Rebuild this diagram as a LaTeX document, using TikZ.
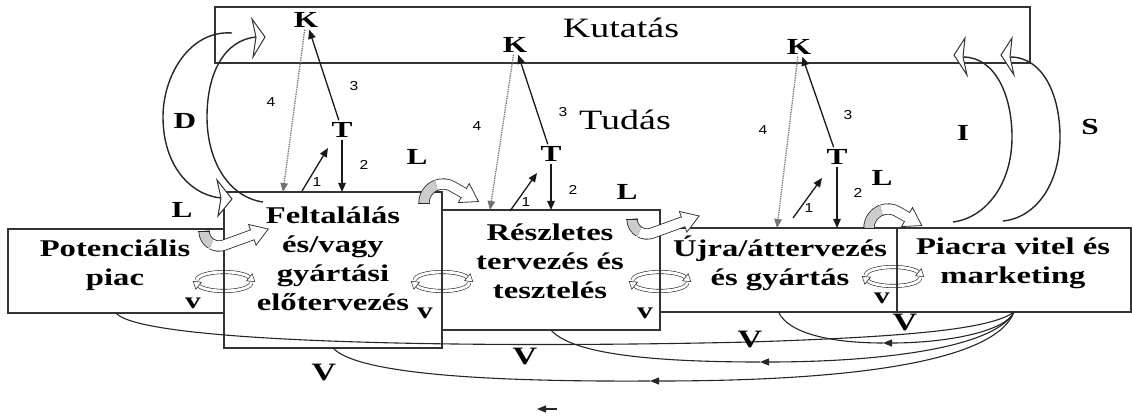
\documentclass[tikz,border=0pt]{standalone}
\usepackage{fontspec}
\setmainfont{Liberation Serif}[FakeStretch=1.36]
\newfontfamily\numfont{Liberation Sans}[FakeStretch=1.2]
\usetikzlibrary{arrows.meta,calc}
\newcommand\ribbon[7]{%
  \pgfmathsetmacro\rdir{(#6<#4) ? (#6-90) : (#6+90)}%
  \draw[rib, double=gray!40] ($(#1,#2)+(#4:#3)$) arc[start angle=#4, end angle=#5, radius=#3];
  \draw[rib, double=white] ($(#1,#2)+(#5:#3)$) arc[start angle=#5, end angle=#6, radius=#3] -- ++(\rdir:#7) coordinate (rh);
  \draw[black!85, line width=0.8pt] ($(#1,#2)+(#4:#3+5.6)$) -- ($(#1,#2)+(#4:#3-5.6)$);
  \filldraw[hollow, line width=0.8pt] ($(rh)+(\rdir+90:11)$) -- ($(rh)+(\rdir:17)$) -- ($(rh)+(\rdir-90:11)$) -- cycle;
  \draw[white, line width=9pt] ($(rh)+(\rdir:-1.5)$) -- ($(rh)+(\rdir:1.2)$);
}
\begin{document}
\begin{tikzpicture}[x=1pt,y=-1pt,
  box/.style={draw=black!80, line width=1.6pt, inner sep=0pt, outer sep=0pt},
  arr/.style={draw=black!90, line width=1.3pt, -{Triangle[length=9pt,width=7.5pt]}},
  dotarr/.style={draw=black!55, line width=1.3pt, densely dotted, -{Triangle[length=9pt,width=7.5pt]}},
  fb/.style={draw=black!85, line width=1.1pt},
  fbarr/.style={fb, -{Triangle[length=9pt,width=7pt]}},
  boxtext/.style={font=\fontsize{24}{29}\selectfont\bfseries, align=center, inner sep=0pt},
  lab/.style={font=\fontsize{23}{24}\selectfont\bfseries, inner sep=0pt},
  bigv/.style={font=\fontsize{25}{26}\selectfont\bfseries, inner sep=0pt},
  num/.style={font=\numfont\fontsize{13}{14}\selectfont, inner sep=0pt},
  kt/.style={font=\fontsize{23}{24}\selectfont\bfseries, inner sep=2pt},
  title/.style={font=\fontsize{28}{30}\selectfont, inner sep=0pt},
  arcl/.style={line width=1.4pt, draw=black!85},
  hollow/.style={draw=black!80, fill=white, line width=1pt, line join=miter},
  rib/.style={line width=0.8pt, double distance=9.6pt, draw=black!85},
  vrib/.style={line width=0.6pt, double=white, double distance=2.8pt, draw=black!85},
  vloop/.pic={
    \draw[vrib] (-27,0) arc[start angle=180, end angle=340, x radius=27, y radius=8];
    \filldraw[hollow, line width=0.6pt] (22.6,0.8) -- (30.8,1.7) -- (28.2,-6.2) -- cycle;
    \draw[vrib] (27,3) arc[start angle=0, end angle=160, x radius=27, y radius=8];
    \filldraw[hollow, line width=0.6pt] (-22.6,2.2) -- (-30.8,1.3) -- (-28.2,9.2) -- cycle;
  }
]
\useasboundingbox (0,0) rectangle (1132,419);

% v loops (under box borders)
\pic at (224,280) {vloop};
\pic at (442,280) {vloop};
\pic at (660,280) {vloop};
\pic at (893,275) {vloop};

% boxes
\node[box, minimum width=815pt, minimum height=56pt] (Kut) at (622.5,35) {};
\node[box, minimum width=216pt, minimum height=84pt] (P) at (116,271) {};
\node[box, minimum width=218pt, minimum height=156pt] (F) at (333,270) {};
\node[box, minimum width=218pt, minimum height=120pt] (R) at (551,270) {};
\node[box, minimum width=237pt, minimum height=84pt] (U) at (778.5,270) {};
\node[box, minimum width=234pt, minimum height=84pt] (M) at (1014,270) {};

% K and T nodes
\node[kt] (K1) at (306,20) {K};
\node[kt] (K2) at (515,45) {K};
\node[kt] (K3) at (799,47) {K};
\node[kt] (T1) at (342,130) {T};
\node[kt] (T2) at (551,154) {T};
\node[kt] (T3) at (837,157) {T};

% D, I, S arcs
\draw[arcl] (232,33) .. controls (190,30) and (163,75) .. (163,117) .. controls (163,165) and (190,195) .. (221,198);
\filldraw[hollow] (217,180) -- (232,199) -- (218,216) -- (221,198) -- cycle;
\draw[arcl] (263,202) .. controls (228,197) and (207,160) .. (207,117) .. controls (207,72) and (225,40) .. (256,37);
\filldraw[hollow] (252,19) -- (265,37) -- (253,57) -- (256,37) -- cycle;
\draw[arcl] (963,57) .. controls (995,57) and (1012,95) .. (1012,137) .. controls (1012,185) and (985,218) .. (953,222);
\filldraw[hollow] (965,38) -- (954,55) -- (967,75) -- (963,57) -- cycle;
\draw[arcl] (1010,57) .. controls (1043,57) and (1060,95) .. (1060,137) .. controls (1060,185) and (1035,218) .. (1003,221);
\filldraw[hollow] (1012,38) -- (1001,55) -- (1014,75) -- (1010,57) -- cycle;

% feedback curves
\coordinate (fa) at (883,343);
\coordinate (fbm) at (760,362);
\coordinate (fcm) at (650,381);
\coordinate (fdm) at (750,342);
\draw[fbarr] (M.south) .. controls (1005,332) and (945,343) .. (fa);
\draw[fb] (fa) .. controls (830,343) and (788,333) .. (U.south);
\draw[fbarr] (M.south) .. controls (995,348) and (880,362) .. (fbm);
\draw[fb] (fbm) .. controls (640,362) and (570,352) .. (R.south);
\draw[fbarr] (M.south) .. controls (995,362) and (850,381) .. (fcm);
\draw[fb] (fcm) .. controls (470,382) and (355,372) .. (F.south);
\draw[fb] (M.south) .. controls (990,330) and (900,337) .. (fdm);
\draw[fb] (fdm) .. controls (450,349) and (140,342) .. (P.south);
\coordinate (la1) at (557,409);
\coordinate (la2) at (537,409);
\draw[fbarr] (la1) -- (la2);

% column arrows
\coordinate (c1a) at (302,191); \coordinate (c1b) at (328,148); \coordinate (c1d) at (283,192);
\coordinate (c2a) at (510,211); \coordinate (c2b) at (537,173); \coordinate (c2d) at (490,210);
\coordinate (c3a) at (793,218); \coordinate (c3b) at (822,178); \coordinate (c3d) at (777,228);
\draw[arr] (T1) -- (K1);
\draw[arr] (T1) -- (T1 |- F.north);
\draw[arr] (c1a) -- (c1b);
\draw[dotarr] (K1) -- (c1d);
\draw[arr] (T2) -- (K2);
\draw[arr] (T2) -- (T2 |- R.north);
\draw[arr] (c2a) -- (c2b);
\draw[dotarr] (K2) -- (c2d);
\draw[arr] (T3) -- (K3);
\draw[arr] (T3) -- (T3 |- U.north);
\draw[arr] (c3a) -- (c3b);
\draw[dotarr] (K3) -- (c3d);

% curved L ribbons
\ribbon{219}{231}{15}{-180}{-240}{-290}{30}
\ribbon{443}{203}{19}{180}{250}{300}{13}
\ribbon{647}{219}{15}{-180}{-240}{-290}{33}
\ribbon{888}{228}{19}{180}{250}{300}{11}

% texts
\node[title] (kutatas) at (621,28) {Kutatás};
\node[title] (tudas) at (625,120) {Tudás};
\node[boxtext] (tP) at (115,265) {Potenciális\\piac};
\node[boxtext] (tF) at (333,259) {Feltalálás\\és/vagy\\gyártási\\előtervezés};
\node[boxtext] (tR) at (550,261) {Részletes\\tervezés és\\tesztelés};
\node[boxtext] (tU) at (780,263) {Újra/áttervezés\\és gyártás};
\node[boxtext] (tM) at (1013,263) {Piacra vitel és\\marketing};

\node[lab] (lD) at (185,121) {D};
\node[lab] (lI) at (963,133) {I};
\node[lab] (lS) at (1090,127) {S};
\node[lab] (lL1) at (182,210) {L};
\node[lab] (lL2) at (417,157) {L};
\node[lab] (lL3) at (627,192) {L};
\node[lab] (lL4) at (882,178) {L};
\node[lab] (lv1) at (193,303) {v};
\node[lab] (lv2) at (425,313) {v};
\node[lab] (lv3) at (645,313) {v};
\node[lab] (lv4) at (882,298) {v};
\node[bigv] (lV1) at (324,373) {V};
\node[bigv] (lV2) at (525,357) {V};
\node[bigv] (lV3) at (750,340) {V};
\node[bigv] (lV4) at (905,323) {V};

\node[num] (n41) at (271,102) {4};
\node[num] (n31) at (354,86) {3};
\node[num] (n11) at (317,182) {1};
\node[num] (n21) at (364,165) {2};
\node[num] (n42) at (477,126) {4};
\node[num] (n32) at (563,112) {3};
\node[num] (n12) at (526,202) {1};
\node[num] (n22) at (573,190) {2};
\node[num] (n43) at (763,130) {4};
\node[num] (n33) at (848,115) {3};
\node[num] (n13) at (809,208) {1};
\node[num] (n23) at (858,193) {2};
\end{tikzpicture}
\end{document}
